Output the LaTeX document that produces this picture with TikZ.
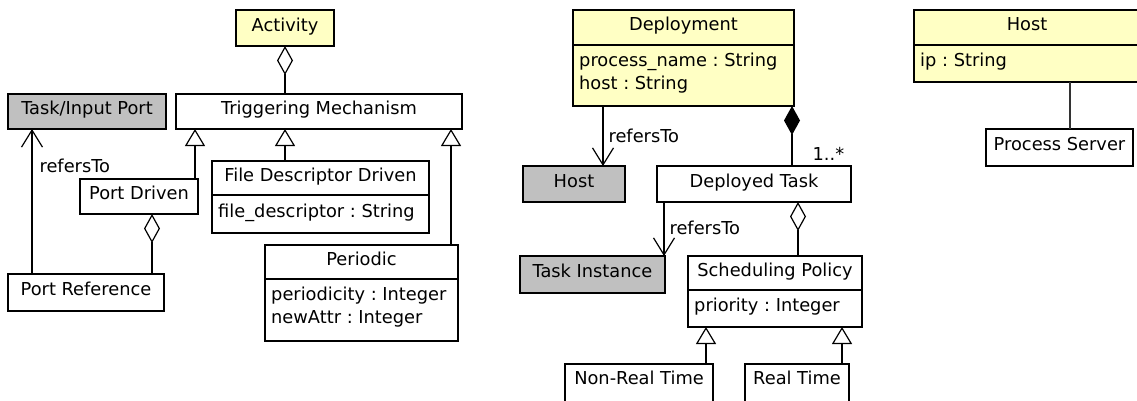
\documentclass[tikz,border=0pt]{standalone}
\usepackage{fontspec}
\setmainfont{DejaVu Sans}
\usetikzlibrary{arrows.meta,calc}

\definecolor{umlyellow}{HTML}{FFFFC4}
\definecolor{umlgray}{HTML}{C0C0C0}

\tikzset{
  cls/.style={draw=black, line width=1.2pt, inner sep=0pt, outer sep=0pt,
    anchor=north west, text height=11pt, text depth=5pt, fill=white},
  yel/.style={fill=umlyellow},
  grey/.style={fill=umlgray},
  attrtxt/.style={anchor=base west, inner sep=0pt},
  boxtxt/.style={anchor=base, inner sep=0pt},
  sepline/.style={line width=2.8pt},
  conn/.style={line width=1.2pt},
  gen/.style={conn, -{Triangle[open, fill=white, length=17pt, width=20pt]}},
  aggr/.style={conn, -{Diamond[open, fill=white, length=29pt, width=16pt]}},
  comp/.style={conn, -{Diamond[length=29pt, width=16pt]}},
  ref/.style={conn, -{Straight Barb[length=17pt, width=21pt]}},
  lbl/.style={anchor=base west, inner sep=0pt}
}

\begin{document}
\frenchspacing
\begin{tikzpicture}[x=1pt, y=-1pt, font=\fontsize{17.8}{23}\selectfont]
\fill[white] (0,0) rectangle (1137,400);
\useasboundingbox (0,0) rectangle (1137,400);
\clip (0,0) rectangle (1137,400);

% ---------- triggering part ----------
\node[cls, yel, minimum width=98pt, minimum height=36pt] (act) at (236,10) {Activity};
\node[cls, grey, minimum width=158pt, minimum height=35pt] (tip) at (8,94) {Task/Input Port};
\node[cls, minimum width=286pt, minimum height=35pt] (trig) at (176,94) {Triggering Mechanism};
\node[cls, minimum width=118pt, minimum height=35pt] (pd) at (80,179) {Port Driven};

\node[cls, minimum width=217pt, minimum height=34pt] (fdd) at (212,161) {File Descriptor Driven};
\node[cls, minimum width=217pt, minimum height=38pt] (fdda) at (212,195) {};
\draw[sepline] (fdda.north west) -- (fdda.north east);
\node[attrtxt] at ($(fdda.north west)+(6,22)$) {file\_descriptor : String};

\node[cls, minimum width=193pt, minimum height=34pt] (per) at (265,245) {Periodic};
\node[cls, minimum width=193pt, minimum height=62pt] (pera) at (265,279) {};
\draw[sepline] (pera.north west) -- (pera.north east);
\node[attrtxt] at ($(pera.north west)+(6,21)$) {periodicity : Integer};
\node[attrtxt] at ($(pera.north west)+(6,44)$) {newAttr : Integer};

\node[cls, minimum width=156pt, minimum height=37pt] (pref) at (8,274) {Port Reference};

% ---------- deployment part ----------
\node[cls, yel, minimum width=221pt, minimum height=35pt] (dep) at (573,10) {Deployment};
\node[cls, yel, minimum width=221pt, minimum height=61pt] (depa) at (573,45) {};
\draw[sepline] (depa.north west) -- (depa.north east);
\node[attrtxt] at ($(depa.north west)+(6,21)$) {process\_name : String};
\node[attrtxt] at ($(depa.north west)+(6,44)$) {host : String};

\node[cls, grey, minimum width=102pt, minimum height=36pt] (hostg) at (523,166) {Host};
\node[cls, minimum width=194pt, minimum height=36pt] (dt) at (657,166) {Deployed Task};
\node[cls, grey, minimum width=145pt, minimum height=37pt] (ti) at (520,256) {Task Instance};

\node[cls, minimum width=174pt, minimum height=34pt] (sp) at (688,256) {Scheduling Policy};
\node[cls, minimum width=174pt, minimum height=37pt] (spa) at (688,290) {};
\draw[sepline] (spa.north west) -- (spa.north east);
\node[attrtxt] at ($(spa.north west)+(6,21)$) {priority : Integer};

\node[cls, minimum width=148pt, minimum height=50pt] (nrt) at (565,364) {};
\node[boxtxt] at ($(nrt.north)+(0,20)$) {Non-Real Time};
\node[cls, minimum width=104pt, minimum height=50pt] (rt) at (745,364) {};
\node[boxtxt] at ($(rt.north)+(0,20)$) {Real Time};

% ---------- host part ----------
\node[cls, yel, minimum width=228pt, minimum height=35pt] (hosty) at (914,10) {\hspace*{-2pt}Host};
\node[cls, yel, minimum width=228pt, minimum height=37pt] (hostya) at (914,45) {};
\draw[sepline] (hostya.north west) -- (hostya.north east);
\node[attrtxt] at ($(hostya.north west)+(6,21)$) {ip : String};
\node[cls, minimum width=147pt, minimum height=37pt] (ps) at (986,129) {Process Server};

% ---------- connectors ----------
\draw[aggr] (trig.north -| act.south) -- (act.south);

\coordinate (pdtop) at ([xshift=-3pt]pd.north east);
\draw[gen] (pdtop) -- (pdtop |- trig.south);
\draw[gen] (fdd.north -| act.south) -- (trig.south -| act.south);
\coordinate (pertop) at ([xshift=-7pt]per.north east);
\draw[gen] (pertop) -- (pertop |- trig.south);

\coordinate (preftop) at ([xshift=-12pt]pref.north east);
\draw[aggr] (preftop) -- (preftop |- pd.south);
\coordinate (prefref) at ([xshift=24pt]pref.north west);
\draw[ref] (prefref) -- node[lbl, pos=0.70, xshift=7pt] {refersTo} (prefref |- tip.south);

\coordinate (depref) at ([xshift=-22pt]hostg.north east);
\draw[ref] (depref |- depa.south) -- node[lbl, pos=0.6, xshift=5pt] {refersTo} (depref);
\coordinate (dttop) at ([xshift=-2pt]depa.south east);
\draw[comp] (dttop |- dt.north) -- node[lbl, pos=0.1, xshift=20pt] {1..*} (dttop);

\coordinate (dtref) at ([xshift=7pt]dt.south west);
\draw[ref] (dtref) -- node[lbl, pos=0.61, xshift=5pt] {refersTo} (dtref |- ti.north);
\coordinate (sptop) at ([xshift=-53pt]dt.south east);
\draw[aggr] (sptop |- sp.north) -- (sptop);

\coordinate (nrttop) at ([xshift=-7pt]nrt.north east);
\draw[gen] (nrttop) -- (nrttop |- spa.south);
\coordinate (rttop) at ([xshift=-7pt]rt.north east);
\draw[gen] (rttop) -- (rttop |- spa.south);

\coordinate (pstop) at ([xshift=-63pt]ps.north east);
\draw[conn, draw=black!80] (pstop) -- (pstop |- hostya.south);
\end{tikzpicture}
\end{document}
